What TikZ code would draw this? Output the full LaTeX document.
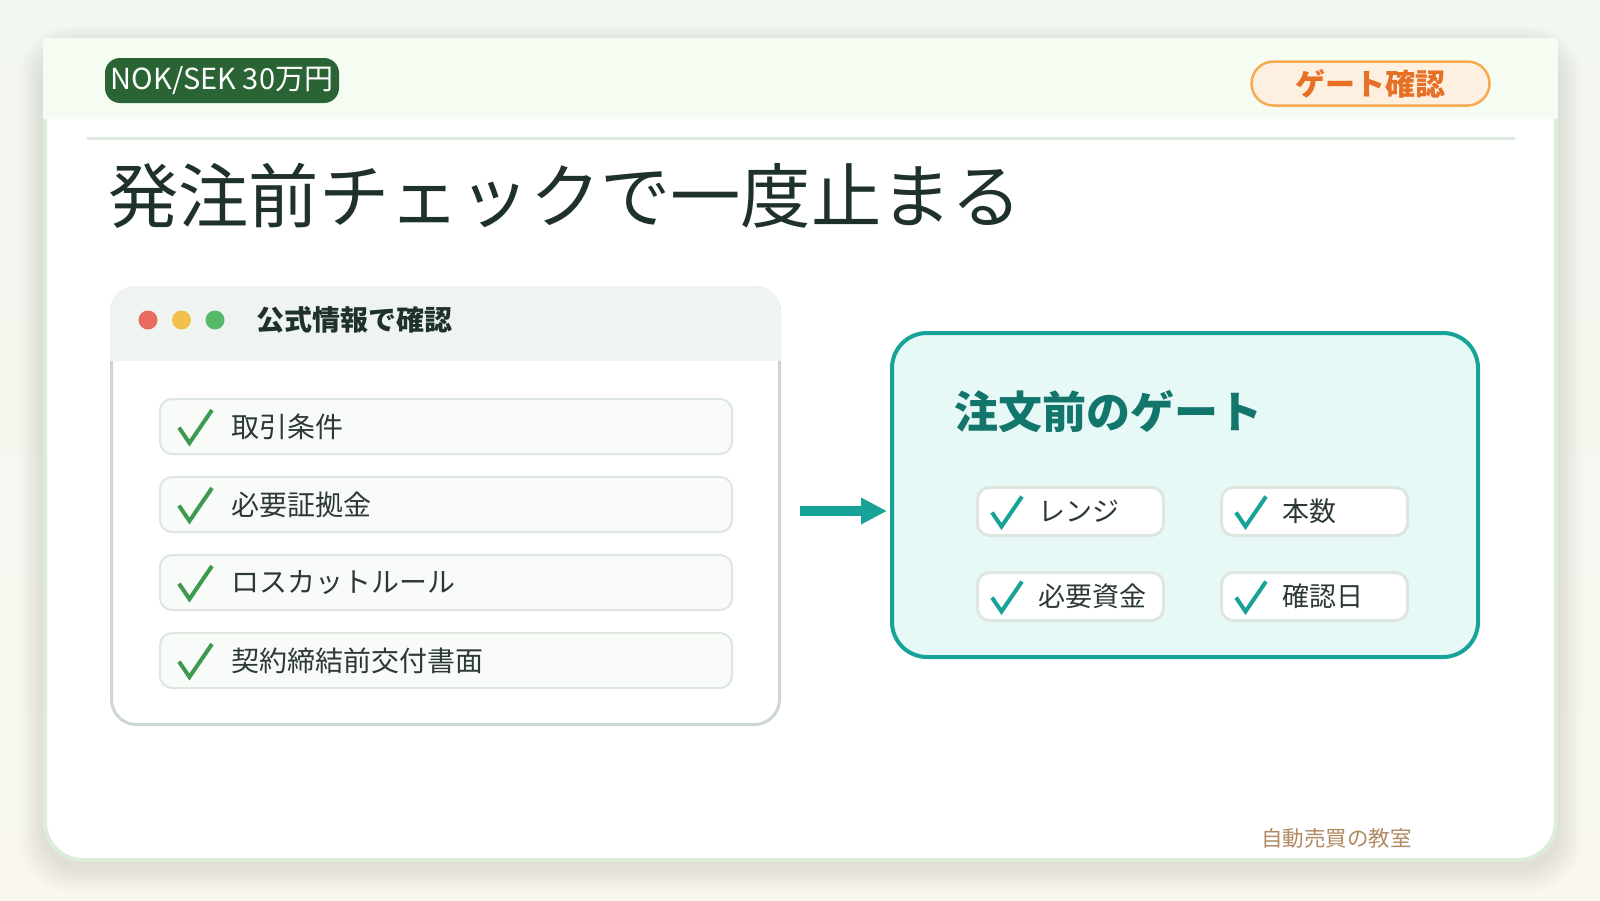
\documentclass[tikz,border=0pt]{standalone}
\usepackage{fontspec}
\setmainfont{Noto Sans CJK JP}
\usetikzlibrary{positioning, calc, arrows.meta}
\definecolor{bgtop}{RGB}{242,247,239}
\definecolor{bgbot}{RGB}{249,247,240}
\definecolor{cardhead}{RGB}{245,253,242}
\definecolor{cardedge}{RGB}{220,237,218}
\definecolor{rulecolor}{RGB}{221,233,221}
\definecolor{paircolor}{RGB}{42,100,52}
\definecolor{tagfill}{RGB}{254,240,224}
\definecolor{tagedge}{RGB}{248,170,80}
\definecolor{tagtext}{RGB}{230,112,38}
\definecolor{inkcolor}{RGB}{31,50,41}
\definecolor{rowink}{RGB}{44,58,51}
\definecolor{winhead}{RGB}{239,244,241}
\definecolor{winedge}{RGB}{204,215,210}
\definecolor{dotred}{RGB}{233,106,94}
\definecolor{dotyellow}{RGB}{242,193,77}
\definecolor{dotgreen}{RGB}{86,184,106}
\definecolor{rowfill}{RGB}{249,251,249}
\definecolor{rowedge}{RGB}{221,231,223}
\definecolor{checkgreen}{RGB}{62,154,79}
\definecolor{gatecolor}{RGB}{23,163,152}
\definecolor{gatefill}{RGB}{231,249,246}
\definecolor{gateink}{RGB}{18,118,108}
\definecolor{footcolor}{RGB}{176,138,98}

\begin{document}
\begin{tikzpicture}[
    x=1pt, y=-1pt,
    pill/.style={rectangle, rounded corners=15pt, minimum width=234pt, minimum height=45pt, inner sep=0pt},
    rowbox/.style={rectangle, draw=rowedge, line width=2pt, fill=rowfill, rounded corners=12pt, minimum width=572pt, minimum height=55pt},
    rowtext/.style={anchor=west, inner sep=0pt, text=rowink, font=\fontsize{28pt}{34pt}\selectfont},
    chip/.style={rectangle, draw=rowedge, line width=3pt, fill=white, rounded corners=12pt, minimum width=186pt, minimum height=48pt},
    tickmark/.pic={\draw[line width=4pt] (-15,1) -- (-5.5,15) -- (15,-15);}
]
\useasboundingbox (0,0) rectangle (1600,900);
\shade[top color=bgtop, bottom color=bgbot] (0,0) rectangle (1600,900);

% Card and its shadow
\foreach \s in {1,...,12}
  \fill[black, opacity=0.008, rounded corners=40+\s] (43-2*\s,38-1.5*\s+6) rectangle (1558+2*\s,862+2*\s+6);
\node[rectangle, draw=cardedge, line width=4pt, fill=white, rounded corners=38pt, minimum width=1511pt, minimum height=820pt] (card) at (800.5,450) {};
\fill[cardhead] (43,38) rectangle (1558,119);
\draw[rulecolor, line width=3pt] (87,138) -- (1515,138);

% Badges
\node[pill, fill=paircolor, text=white, font=\fontsize{29pt}{34pt}\selectfont] (pair) at (222,80.5) {NOK/SEK 30万円};
\node[pill, rounded corners=22pt, draw=tagedge, line width=2.5pt, fill=tagfill, text=tagtext, minimum width=238pt, minimum height=44pt, font=\bfseries\fontsize{30pt}{36pt}\selectfont] (tag) at (1370.5,83.5) {ゲート確認};

% Title
\node[anchor=west, inner sep=0pt, text=inkcolor, font=\fontsize{70.3pt}{80pt}\selectfont] (title) at (108,196) {発注前チェックで一度止まる};

% Window with the official checks
\node[rectangle, draw=winedge, line width=3pt, fill=white, rounded corners=25pt, minimum width=668pt, minimum height=437pt] (win) at (445.5,506) {};
\begin{scope}
  \clip[rounded corners=26.5pt] (win.north west) rectangle (win.south east);
  \fill[winhead] (win.north west) rectangle ([yshift=-75pt]win.north east);
\end{scope}
\foreach \c/\x in {dotred/148, dotyellow/181.5, dotgreen/215}
  \fill[\c] (\x,320) circle (9.5pt);
\node[anchor=west, inner sep=0pt, text=inkcolor, font=\bfseries\fontsize{28pt}{32pt}\selectfont] (wintitle) at (256,320) {公式情報で確認};

% Check rows
\node[rowbox] (r1) at (446,426.5) {};
\node[rowbox, below=21pt of r1] (r2) {};
\node[rowbox, below=21pt of r2] (r3) {};
\node[rowbox, below=21pt of r3] (r4) {};
\foreach \n/\t in {r1/取引条件, r2/必要証拠金, r3/ロスカットルール, r4/契約締結前交付書面} {
  \pic[color=checkgreen, scale=1.1] at ($(\n.west)+(36.5,0)$) {tickmark};
  \node[rowtext] (\n-text) at ($(\n.west)+(72,0)$) {\t};
}

% Gate
\node[rectangle, draw=gatecolor, line width=4pt, fill=gatefill, rounded corners=35pt, minimum width=586pt, minimum height=324pt] (gate) at (1185,495) {};
\node[anchor=west, inner sep=0pt, text=gateink, font=\bfseries\fontsize{44pt}{50pt}\selectfont] (gatehead) at (954,412) {注文前のゲート};

% Arrow
\draw[gatecolor, line width=10pt, -{Triangle[length=26pt, width=25pt]}] ($(win.east)+(19,5)$) -- ($(win.east -| gate.west)+(-3,5)$);

% Gate chips
\node[chip] (c1) at (1070.5,511.5) {};
\node[chip, right=55pt of c1] (c2) {};
\node[chip, below=34pt of c1] (c3) {};
\node[chip, below=34pt of c2] (c4) {};
\foreach \n/\t in {c1/レンジ, c2/本数, c3/必要資金, c4/確認日} {
  \pic[color=gatecolor] at ($(\n.west)+(31,0)$) {tickmark};
  \node[rowtext, font=\fontsize{27pt}{32pt}\selectfont] (\n-text) at ($(\n.west)+(62,0)$) {\t};
}

% Footer
\node[anchor=west, inner sep=0pt, text=footcolor, font=\fontsize{21.5pt}{26pt}\selectfont] (footer) at (1261,838) {自動売買の教室};

\end{tikzpicture}
\end{document}
